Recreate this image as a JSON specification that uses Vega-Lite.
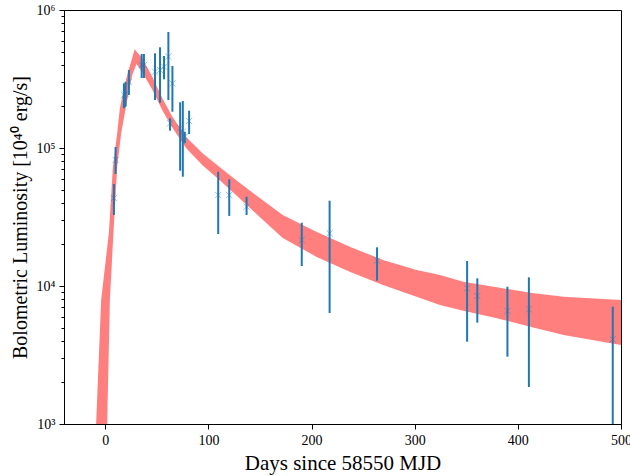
{
  "$schema": "https://vega.github.io/schema/vega-lite/v6.json",
  "width": 557,
  "height": 414,
  "autosize": "none",
  "padding": {"left": 64, "top": 10, "right": 9, "bottom": 52},
  "background": "white",
  "config": {
    "view": {"stroke": "black", "strokeWidth": 1},
    "axis": {
      "domainColor": "black", "tickColor": "black", "labelColor": "black", "titleColor": "black",
      "labelFont": "Liberation Serif", "titleFont": "Liberation Serif", "grid": false,
      "titleFontWeight": "normal", "domainWidth": 1, "tickWidth": 1
    }
  },
  "datasets": {
    "band": [
      {"t": -8.85, "hi": 1000, "lo": 100},
      {"t": -4, "hi": 7920, "lo": 200},
      {"t": 0, "hi": 14400, "lo": 230},
      {"t": 1.85, "hi": 18900, "lo": 1000},
      {"t": 3.5, "hi": 24200, "lo": 3680},
      {"t": 4.47, "hi": 31800, "lo": 7920},
      {"t": 7.39, "hi": 72800, "lo": 20300},
      {"t": 8.36, "hi": 83000, "lo": 27700},
      {"t": 11.57, "hi": 128500, "lo": 72800},
      {"t": 14.2, "hi": 195000, "lo": 107000},
      {"t": 15.46, "hi": 216800, "lo": 128500},
      {"t": 17.41, "hi": 254700, "lo": 154500},
      {"t": 21.3, "hi": 338000, "lo": 222600},
      {"t": 26.16, "hi": 451600, "lo": 338000},
      {"t": 28.5, "hi": 518600, "lo": 375800},
      {"t": 30.25, "hi": 501000, "lo": 406000},
      {"t": 35.89, "hi": 446700, "lo": 353800},
      {"t": 45.61, "hi": 328600, "lo": 264600},
      {"t": 55.34, "hi": 229200, "lo": 187600},
      {"t": 65.07, "hi": 168600, "lo": 140400},
      {"t": 78.1, "hi": 120800, "lo": 100500},
      {"t": 94.24, "hi": 91530, "lo": 74900},
      {"t": 110.48, "hi": 73180, "lo": 58900},
      {"t": 126.72, "hi": 58630, "lo": 45640},
      {"t": 144.49, "hi": 46420, "lo": 34380},
      {"t": 172.05, "hi": 32700, "lo": 22270},
      {"t": 204.53, "hi": 24740, "lo": 16310},
      {"t": 236.97, "hi": 19270, "lo": 12690},
      {"t": 269.3, "hi": 15430, "lo": 10170},
      {"t": 301.79, "hi": 13060, "lo": 8366},
      {"t": 324.45, "hi": 12020, "lo": 7282},
      {"t": 347.11, "hi": 10744, "lo": 6622},
      {"t": 379.6, "hi": 9786, "lo": 5834},
      {"t": 411.98, "hi": 8942, "lo": 5071},
      {"t": 444.37, "hi": 8366, "lo": 4415},
      {"t": 500, "hi": 7916, "lo": 3736}
    ],
    "obs": [
      {"t": 8.4, "L": 43400, "lo": 32700, "hi": 54800},
      {"t": 10.0, "L": 81900, "lo": 64800, "hi": 101600},
      {"t": 18.1, "L": 242000, "lo": 194000, "hi": 294300},
      {"t": 19.7, "L": 246000, "lo": 199200, "hi": 302200},
      {"t": 22.9, "L": 302200, "lo": 242000, "hi": 367500},
      {"t": 35.3, "L": 399400, "lo": 321600, "hi": 480000},
      {"t": 37.5, "L": 399400, "lo": 321600, "hi": 480000},
      {"t": 48.2, "L": 357200, "lo": 222700, "hi": 485700},
      {"t": 53.1, "L": 367500, "lo": 212900, "hi": 536600},
      {"t": 57.0, "L": 388200, "lo": 314700, "hi": 464200},
      {"t": 61.2, "L": 458800, "lo": 222700, "hi": 692600},
      {"t": 62.8, "L": 151000, "lo": 133500, "hi": 164200},
      {"t": 65.1, "L": 294300, "lo": 183200, "hi": 392800},
      {"t": 72.6, "L": 138900, "lo": 68460, "hi": 214400},
      {"t": 75.2, "L": 131300, "lo": 61950, "hi": 219000},
      {"t": 77.1, "L": 120800, "lo": 108200, "hi": 131300},
      {"t": 81.3, "L": 156900, "lo": 126300, "hi": 186300},
      {"t": 109.5, "L": 45600, "lo": 23800, "hi": 67330},
      {"t": 120.2, "L": 45600, "lo": 32200, "hi": 59330},
      {"t": 137.0, "L": 37550, "lo": 32700, "hi": 44370},
      {"t": 190.5, "L": 21540, "lo": 13960, "hi": 28750},
      {"t": 217.5, "L": 24090, "lo": 6370, "hi": 41500},
      {"t": 263.5, "L": 15250, "lo": 10920, "hi": 19070},
      {"t": 350.8, "L": 9623, "lo": 3947, "hi": 15180},
      {"t": 360.7, "L": 8464, "lo": 5421, "hi": 11370},
      {"t": 389.9, "L": 6590, "lo": 3074, "hi": 9883},
      {"t": 410.7, "L": 6780, "lo": 1854, "hi": 11560},
      {"t": 492.0, "L": 4110, "lo": 950, "hi": 7080}
    ]
  },
  "layer": [
    {
      "data": {"name": "band"},
      "mark": {"type": "area", "color": "#ff7f7f", "opacity": 1, "clip": true},
      "encoding": {
        "x": {
          "field": "t", "type": "quantitative",
          "scale": {"domain": [-40, 500], "nice": false, "zero": false},
          "axis": {
            "values": [0, 100, 200, 300, 400, 500], "tickSize": 5, "labelFontSize": 14,
            "labelPadding": 4, "labelFlush": false, "labelOverlap": false,
            "title": "Days since 58550 MJD", "titleFontSize": 21, "titlePadding": 5
          }
        },
        "y": {
          "field": "hi", "type": "quantitative",
          "scale": {"type": "log", "domain": [1000, 1000000], "nice": false},
          "axis": {
            "orient": "left", "values": [1000, 10000, 100000, 1000000], "tickSize": 5,
            "labelFontSize": 14, "labelPadding": 4,
            "labelExpr": "datum.value == 1000 ? '10³' : datum.value == 10000 ? '10⁴' : datum.value == 100000 ? '10⁵' : '10⁶'",
            "title": "Bolometric Luminosity [10⁴⁰ erg/s]", "titleFontSize": 20, "titlePadding": 6
          }
        },
        "y2": {"field": "lo"}
      }
    },
    {
      "data": {"name": "obs"},
      "mark": {"type": "rule", "color": "#1f77b4", "strokeWidth": 2, "clip": true},
      "encoding": {
        "x": {"field": "t", "type": "quantitative"},
        "y": {
          "field": "lo", "type": "quantitative",
          "axis": {
            "orient": "left", "domain": false, "labels": false, "title": null, "tickSize": 3,
            "values": [2000, 3000, 4000, 5000, 6000, 7000, 8000, 9000, 20000, 30000, 40000, 50000, 60000, 70000, 80000, 90000, 200000, 300000, 400000, 500000, 600000, 700000, 800000, 900000]
          }
        },
        "y2": {"field": "hi"}
      }
    },
    {
      "data": {"name": "obs"},
      "mark": {"type": "point", "shape": "M-1,-1L1,1M-1,1L1,-1", "filled": false, "color": "#1f77b4", "opacity": 0.45, "size": 40, "strokeWidth": 1},
      "encoding": {
        "x": {"field": "t", "type": "quantitative"},
        "y": {"field": "L", "type": "quantitative", "axis": null}
      }
    }
  ],
  "resolve": {"axis": {"y": "independent"}}
}
